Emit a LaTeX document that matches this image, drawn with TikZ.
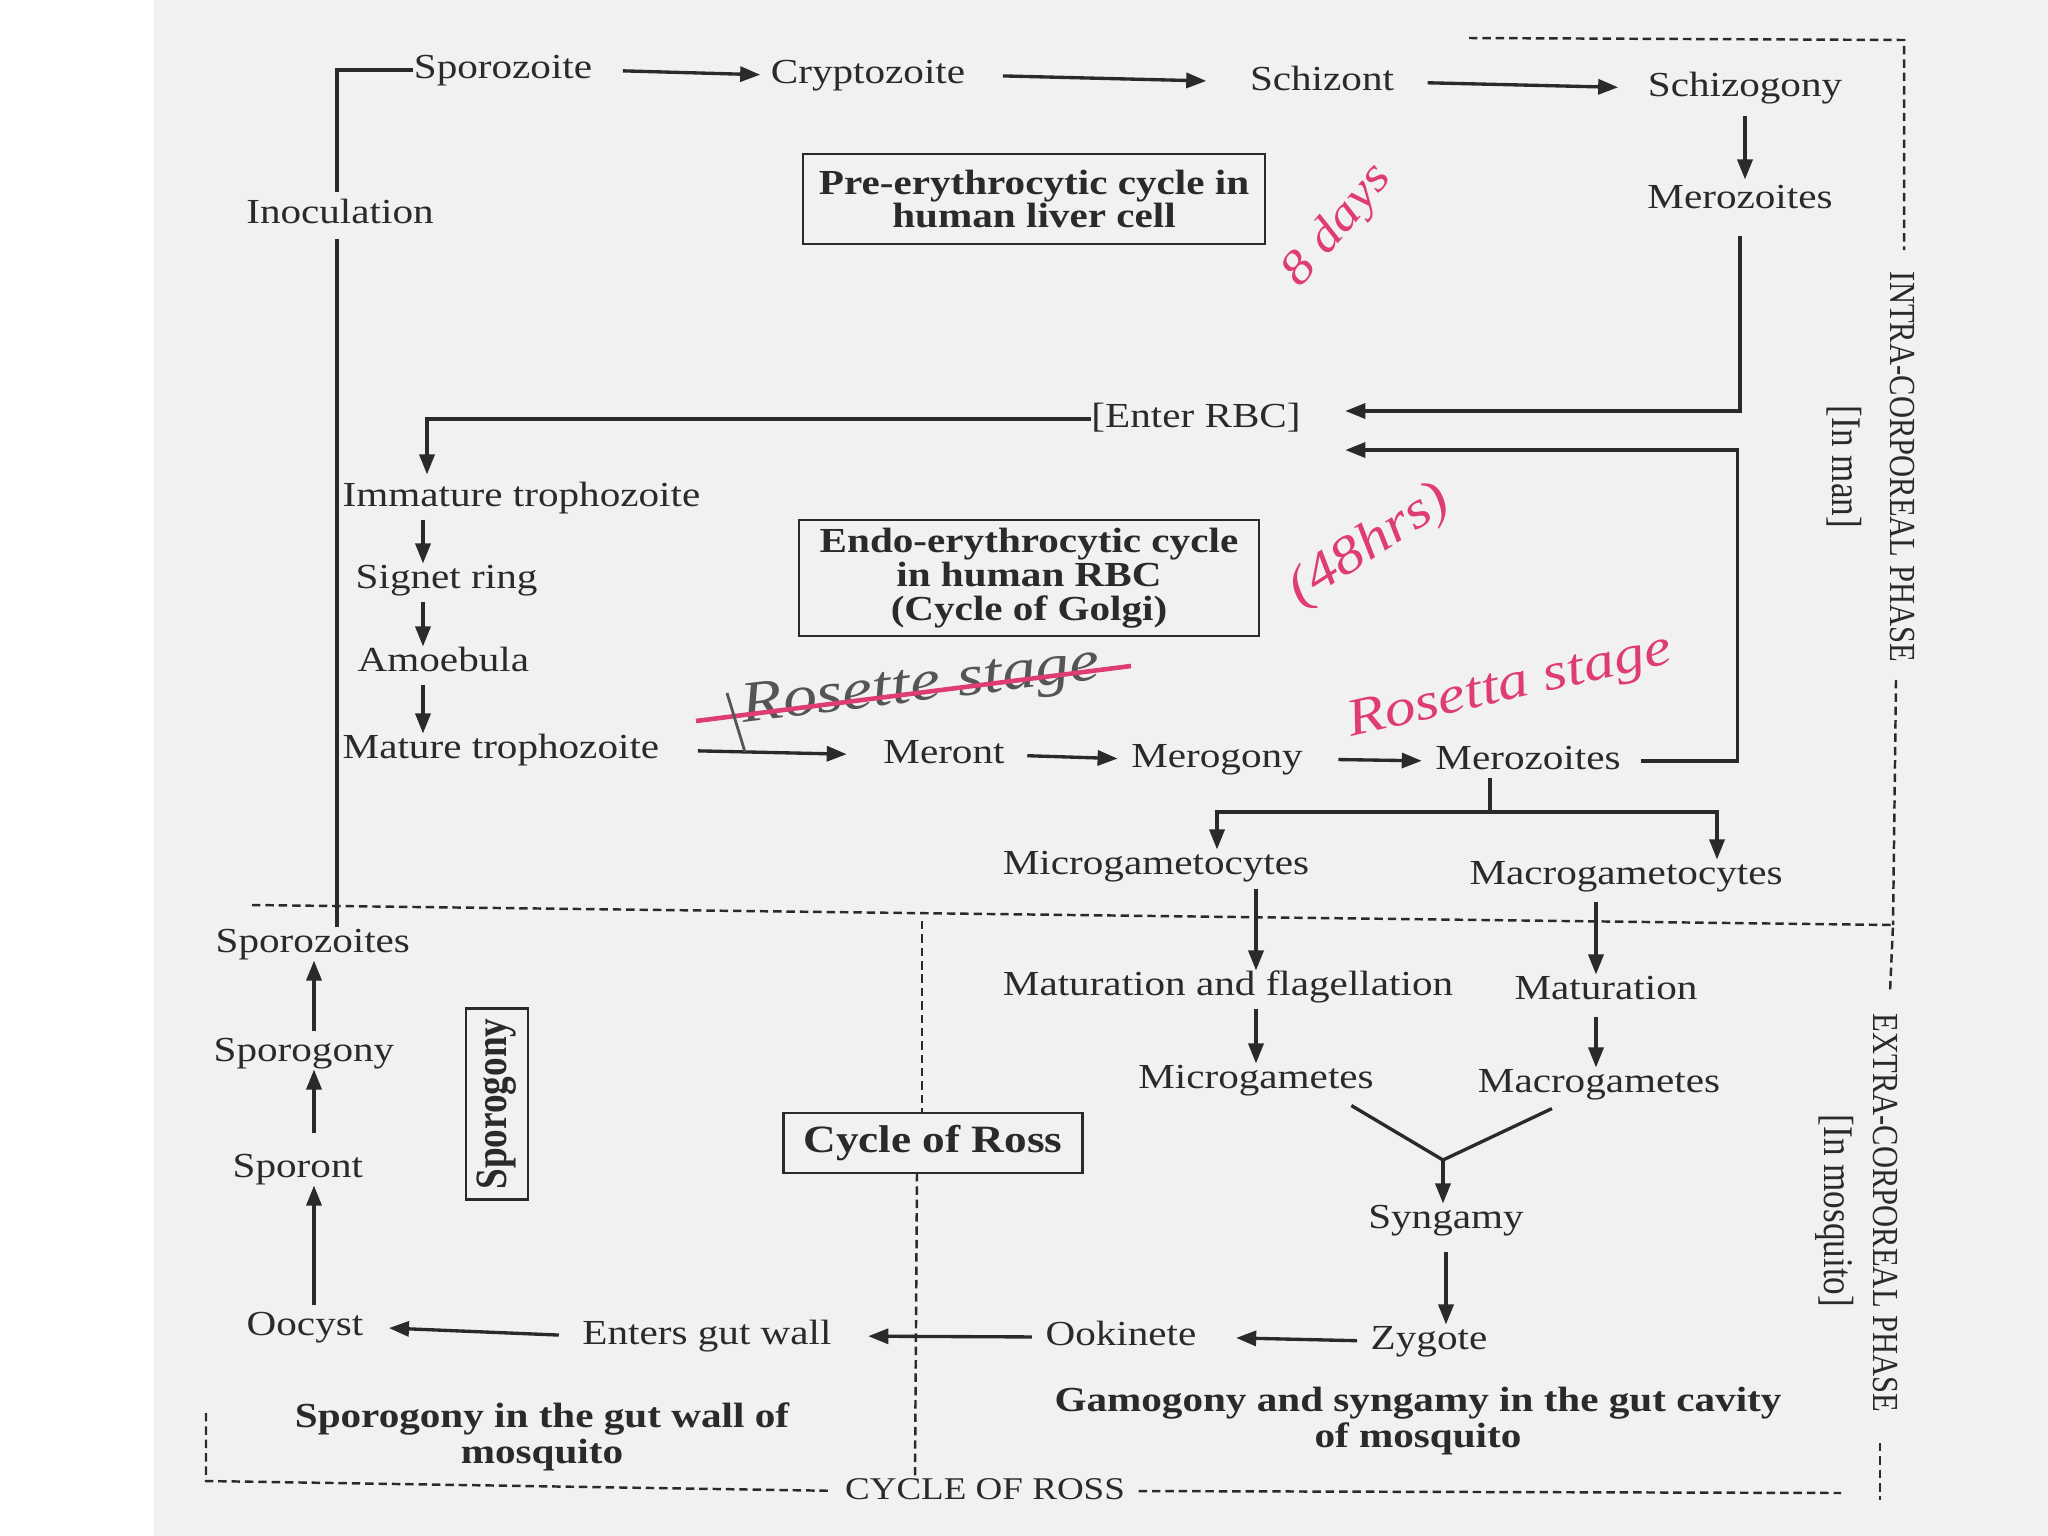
\documentclass[tikz,border=0pt]{standalone}
\usepackage{fontspec}
\usepackage{graphicx}
\setmainfont{Liberation Serif}[FakeStretch=1.17]
\newfontfamily\rotfont{Liberation Serif}
\usetikzlibrary{arrows.meta,calc}
\definecolor{ink}{RGB}{42,42,42}
\definecolor{page}{RGB}{241,241,241}
\definecolor{handpink}{RGB}{222,60,115}
\definecolor{pencil}{RGB}{85,85,85}
\begin{document}
\begin{tikzpicture}[x=0.01cm,y=-0.01cm,
  lbl/.style={inner sep=0pt, text=ink, font=\fontsize{10}{10}\selectfont, text height=7pt, text depth=2pt},
  ttl/.style={draw=ink, line width=0.75pt, align=center, font=\bfseries\fontsize{10}{9.6}\selectfont, text=ink, inner sep=2pt},
  capt/.style={align=center, font=\bfseries\fontsize{10}{10.4}\selectfont, text=ink, inner sep=0pt},
  arr/.style={draw=ink, line width=0.95pt, -{Triangle[length=0.2cm,width=0.15cm]}},
  ln/.style={draw=ink, line width=0.95pt},
  dsh/.style={draw=ink, line width=0.7pt, dash pattern=on 2.4pt off 1.4pt},
  hand/.style={text=handpink, inner sep=0pt},
  vtxt/.style={inner sep=0pt, text=ink, rotate=-90}]
\useasboundingbox (0,0) rectangle (2048,1536);
\fill[white] (0,0) rectangle (2048,1536);
\fill[page] (154,0) rectangle (2048,1536);

% ---------- nodes ----------
\node[lbl] (spz) at (503,70) {Sporozoite};
\node[lbl] (cry) at (868,75) {Cryptozoite};
\node[lbl] (sch) at (1322,82) {Schizont};
\node[lbl] (schg) at (1745,88) {Schizogony};
\node[lbl] (mer1) at (1740,200) {Merozoites};
\node[lbl] (inoc) at (340,215) {Inoculation};
\node[ttl, minimum width=4.62cm, minimum height=0.9cm] (pre) at (1034,199) {Pre-erythrocytic cycle in\\human liver cell};
\node[lbl] (enter) at (1196,419) {[Enter RBC]};
\node[lbl, anchor=west] (imm) at (342,498) {Immature trophozoite};
\node[lbl, anchor=west] (sig) at (355,580) {Signet ring};
\node[lbl, anchor=west] (amo) at (357,663) {Amoebula};
\node[lbl, anchor=west] (mat) at (342,750) {Mature trophozoite};
\node[ttl, minimum width=4.6cm, minimum height=1.16cm] (endo) at (1029,578) {Endo-erythrocytic cycle\\in human RBC\\(Cycle of Golgi)};
\node[lbl] (meront) at (944,755) {Meront};
\node[lbl] (merog) at (1217,759) {Merogony};
\node[lbl] (mer2) at (1528,761) {Merozoites};
\node[lbl] (micgc) at (1156,866) {Microgametocytes};
\node[lbl] (macgc) at (1626,876) {Macrogametocytes};
\node[lbl] (matfl) at (1228,987) {Maturation and flagellation};
\node[lbl] (matu) at (1606,991) {Maturation};
\node[lbl] (micg) at (1256,1080) {Microgametes};
\node[lbl] (macg) at (1599,1084) {Macrogametes};
\node[lbl] (syn) at (1446,1220) {Syngamy};
\node[lbl] (zyg) at (1429,1341) {Zygote};
\node[lbl] (ook) at (1121,1337) {Ookinete};
\node[lbl] (egw) at (707,1336) {Enters gut wall};
\node[lbl, anchor=west] (ooc) at (246,1327) {Oocyst};
\node[lbl, anchor=west] (spt) at (232,1169) {Sporont};
\node[lbl, anchor=west] (spg) at (213,1053) {Sporogony};
\node[lbl, anchor=west] (spzs) at (215,944) {Sporozoites};
\node[draw=ink, line width=0.75pt, rotate=90, minimum width=1.91cm, minimum height=0.62cm, inner sep=1pt, text=ink,
      font=\rotfont\bfseries\fontsize{10.6}{10.6}\selectfont] (sbox) at (497,1104) {\scalebox{1}[1.2]{Sporogony}};
\node[ttl, font=\bfseries\fontsize{11}{11}\selectfont, minimum width=2.99cm, minimum height=0.6cm] (ross) at (933,1143) {Cycle of Ross};
\node[capt] (sgw) at (542,1437) {Sporogony in the gut wall of\\mosquito};
\node[capt] (gam) at (1418,1421) {Gamogony and syngamy in the gut cavity\\of mosquito};
\node[lbl, font=\fontsize{9}{9}\selectfont] (cor) at (985,1491) {CYCLE OF ROSS};
\node[vtxt, font=\rotfont\fontsize{8.7}{9}\selectfont] (intra) at (1902,467) {\scalebox{1}[1.2]{INTRA-CORPOREAL PHASE}};
\node[vtxt, font=\rotfont\fontsize{10}{10}\selectfont] (inman) at (1844,467) {\scalebox{1}[1.2]{[In man]}};
\node[vtxt, font=\rotfont\fontsize{8.7}{9}\selectfont] (extra) at (1885,1213) {\scalebox{1}[1.2]{EXTRA-CORPOREAL PHASE}};
\node[vtxt, font=\rotfont\fontsize{10}{10}\selectfont] (inmos) at (1835,1211) {\scalebox{1}[1.2]{[In mosquito]}};

% ---------- connectors ----------
\coordinate (itop) at (337,70);
\draw[ln, shorten >=0.06cm] (spz.west) -- (itop) -- (itop |- inoc.north);
\draw[ln, shorten <=0.07cm] (itop |- inoc.south) -- (itop |- spzs.north);
\draw[arr, shorten <=0.3cm, shorten >=0.1cm] (spz.east) -- (cry.west);
\draw[arr, shorten <=0.37cm, shorten >=0.43cm] (cry.east) -- (sch.west);
\draw[arr, shorten <=0.33cm, shorten >=0.29cm] (sch.east) -- (schg.west);
\draw[arr, shorten <=0.11cm, shorten >=0.04cm] (schg.south) -- (schg.south |- mer1.north);

\coordinate (in1) at ([shift={(0.44cm,0.08cm)}]enter.east);
\coordinate (in2) at ([shift={(0.44cm,-0.31cm)}]enter.east);
\coordinate (rc) at ($(in2)+(3.92cm,0)$);
\draw[arr, shorten <=0.19cm] (mer1.south) |- (in1);
\draw[arr, shorten <=0.2cm] (mer2.east) -| (rc) -- (in2);

\coordinate (colE) at (427,0);
\draw[arr, shorten >=0.07cm] (enter.west) -| (imm.north -| colE);
\coordinate (colA) at (423,0);
\draw[arr, shorten <=0.05cm] (imm.south -| colA) -- (sig.north -| colA);
\draw[arr, shorten <=0.05cm] (sig.south -| colA) -- (amo.north -| colA);
\draw[arr, shorten <=0.05cm] (amo.south -| colA) -- (mat.north -| colA);
\draw[arr, shorten <=0.38cm, shorten >=0.36cm] (mat.east) -- (meront.west);
\draw[arr, shorten <=0.22cm, shorten >=0.13cm] (meront.east) -- (merog.west);
\draw[arr, shorten <=0.35cm, shorten >=0.13cm] (merog.east) -- (mer2.west);

\coordinate (split) at (1490,812);
\coordinate (lb) at (1217,812);
\coordinate (rb) at (1717,812);
\draw[ln] (mer2.south -| split) -- (split);
\draw[arr] (split) -- (lb) -- (lb |- micgc.north);
\draw[arr] (split) -- (rb) -- (rb |- macgc.north);
\coordinate (cx1) at (1256,0);
\coordinate (cx2) at (1596,0);
\draw[arr, shorten <=0.06cm] (micgc.south -| cx1) -- (matfl.north -| cx1);
\draw[arr, shorten <=0.09cm] (macgc.south -| cx2) -- (matu.north -| cx2);
\draw[arr, shorten <=0.05cm] (matfl.south -| cx1) -- (micg.north -| cx1);
\draw[arr, shorten <=0.09cm] (matu.south -| cx2) -- (macg.north -| cx2);
\coordinate (yj) at (1443,1160);
\draw[ln] ([shift={(-0.23cm,-0.09cm)}]micg.south east) -- (yj) -- ([shift={(-0.47cm,-0.08cm)}]macg.south);
\draw[arr] (yj) -- (yj |- syn.north);
\draw[arr, shorten <=0.15cm] (syn.south) -- (syn.south |- zyg.north);
\draw[arr, shorten <=0.13cm, shorten >=0.39cm] (zyg.west) -- (ook.east);
\draw[arr, shorten <=0.13cm, shorten >=0.36cm] (ook.west) -- (egw.east);
\draw[arr, shorten <=0.23cm, shorten >=0.25cm] (egw.west) -- (ooc.east);
\coordinate (colL) at (314,0);
\draw[arr, shorten <=0.05cm] (ooc.north -| colL) -- (spt.south -| colL);
\draw[arr, shorten <=0.19cm] (spt.north -| colL) -- (spg.south -| colL);
\draw[arr, shorten <=0.05cm] (spg.north -| colL) -- (spzs.south -| colL);

% ---------- dashed boundaries ----------
\draw[dsh] (1469,38) -- (1904,40) -- (1904,250);
\draw[dsh] (1896,680) -- (1893,925);
\draw[dsh] (252,905) -- (1893,925) -- (1890,992);
\draw[dsh] (1880,1443) -- (1880,1500);
\draw[dsh] (922,921) -- (922,1113);
\draw[dsh] (917,1173) -- (915,1476);
\draw[dsh, shorten >=0.12cm] (206,1413) -- (206,1481) -- (cor.west);
\draw[dsh, shorten <=0.13cm] (cor.east) -- (1841,1493);

% ---------- handwritten notes ----------
\node[hand, font=\itshape\fontsize{13.5}{13.5}\selectfont, rotate=50] (h8) at (1338,226) {8 days};
\node[hand, font=\itshape\fontsize{15}{15}\selectfont, rotate=33] (h48) at (1370,546) {(48hrs)};
\node[hand, text=pencil, font=\itshape\fontsize{16.5}{16.5}\selectfont, rotate=7] (hros) at (921,688) {Rosette stage};
\draw[handpink, line width=1.3pt] (696,721) -- (1131,666);
\draw[pencil, line width=0.8pt] (727,693) -- (745,752);
\node[hand, font=\itshape\fontsize{15}{15}\selectfont, rotate=13] (hros2) at (1510,688) {Rosetta stage};
\end{tikzpicture}
\end{document}
